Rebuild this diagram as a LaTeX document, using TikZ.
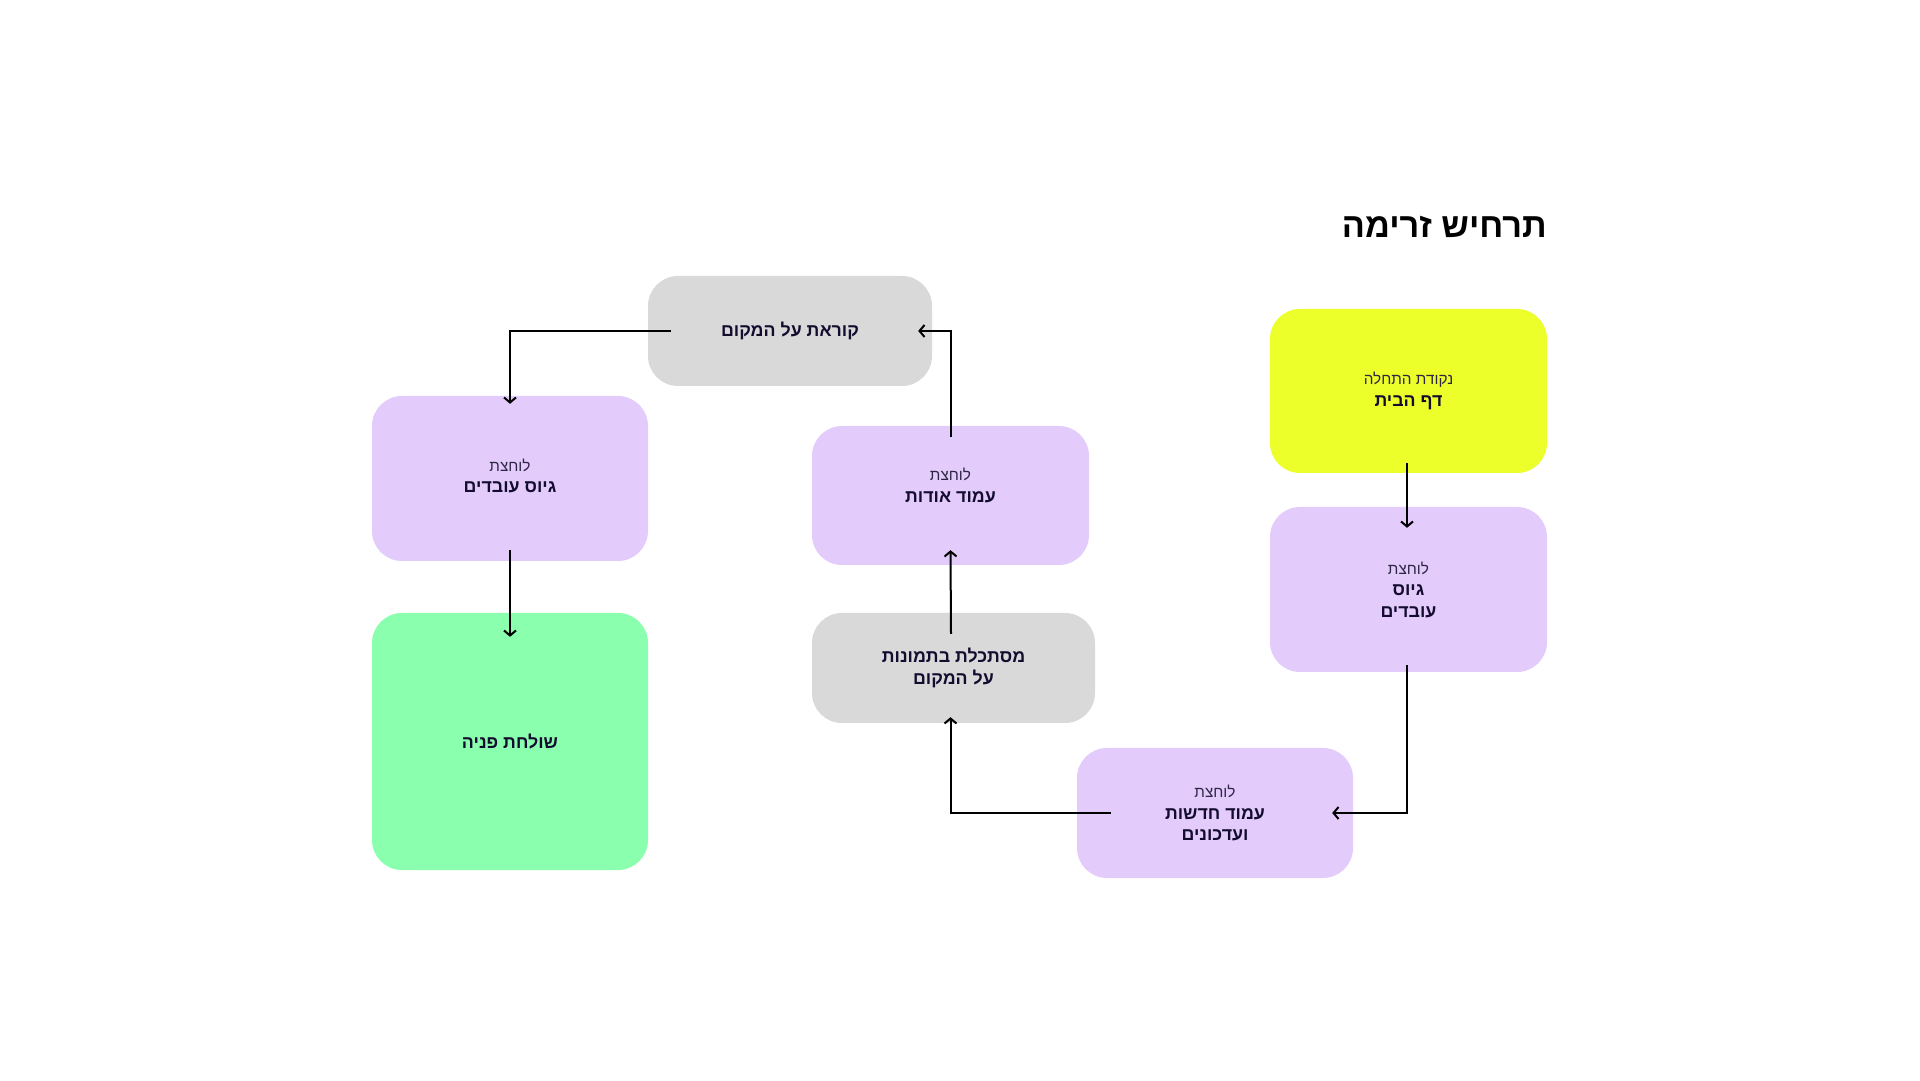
\documentclass[tikz,border=0pt]{standalone}
\usepackage{fontspec}
\usetikzlibrary{arrows.meta}
\TeXXeTstate=1
\newfontfamily\hebfont[Script=Hebrew]{Liberation Sans}
\definecolor{cyellow}{HTML}{EDFF2B}
\definecolor{cpurple}{HTML}{E3CCFC}
\definecolor{cgray}{HTML}{D9D9D9}
\definecolor{cgreen}{HTML}{8AFFAE}
\definecolor{txtdark}{HTML}{140C2E}
\definecolor{txtlight}{HTML}{2E2545}
\newcommand\hsmall[1]{{\fontsize{15.3}{21.5}\selectfont\color{txtlight}\beginR #1\endR}}
\newcommand\hbold[1]{{\fontsize{17.8}{21.5}\selectfont\bfseries\beginR #1\endR}}
\tikzset{
  box/.style={rounded corners=30pt, draw=none, align=center, text=txtdark,
    font=\hebfont\fontsize{17.8}{21.5}\selectfont, inner sep=0pt},
  boxtext/.style={align=center, text=txtdark, font=\hebfont\fontsize{17.8}{21.5}\selectfont, inner sep=0pt},
  arr/.style={line width=2pt, black, -{Straight Barb[length=5pt,width=12pt,line width=2pt]}}
}
\begin{document}
\begin{tikzpicture}[x=1pt,y=1pt]
\fill[white] (0,0) rectangle (1920,1080);
\useasboundingbox (0,0) rectangle (1920,1080);

\node[anchor=east, inner sep=0pt, font=\hebfont\fontsize{34.3}{40}\selectfont\bfseries, text=black] (title) at (1547,853) {\beginR תרחיש זרימה\endR};

\node[box, fill=cyellow, minimum width=277pt, minimum height=164pt] (yellow) at (1408.5,689) {\hsmall{נקודת התחלה}\\\hbold{דף הבית}};
\node[box, fill=cpurple, minimum width=277pt, minimum height=165pt] (rpurple) at (1408.5,490.5) {\hsmall{לוחצת}\\\hbold{גיוס}\\\hbold{עובדים}};
\node[box, fill=cpurple, minimum width=276pt, minimum height=130pt] (news) at (1215,267) {\hsmall{לוחצת}\\\hbold{עמוד חדשות}\\\hbold{ועדכונים}};
\node[box, fill=cgray, minimum width=283pt, minimum height=110pt] (pics) at (953.5,412) {\hbold{מסתכלת בתמונות}\\\hbold{על המקום}};
\node[box, fill=cpurple, minimum width=277pt, minimum height=139pt] (about) at (950.5,584.5) {};
\node[boxtext] (aboutT) at ([yshift=10pt]about.center) {\hsmall{לוחצת}\\\hbold{עמוד אודות}};
\node[box, fill=cgray, minimum width=284pt, minimum height=110pt] (reading) at (790,749) {\hbold{קוראת על המקום}};
\node[box, fill=cpurple, minimum width=276pt, minimum height=165pt] (lpurple) at (510,601.5) {};
\node[boxtext] (lpurpleT) at ([yshift=2.5pt]lpurple.center) {\hsmall{לוחצת}\\\hbold{גיוס עובדים}};
\node[box, fill=cgreen, minimum width=276pt, minimum height=257pt] (green) at (510,338.5) {\hbold{שולחת פניה}};

\draw[arr] ([xshift=-1.5pt,yshift=10pt]yellow.south) -- ([xshift=-1.5pt,yshift=-21pt]rpurple.north);
\draw[arr] ([xshift=-1.5pt,yshift=7pt]rpurple.south) |- ([xshift=-21pt]news.east);
\draw[arr] ([xshift=34pt]news.west) -| ([xshift=-3pt,yshift=6pt]pics.south);
\draw[arr] ([xshift=-2.5pt,yshift=-21pt]pics.north) -- ([yshift=15pt]about.south);
\draw[arr] ([yshift=-11pt]about.north) |- ([xshift=-14pt]reading.east);
\draw[arr] ([xshift=23pt]reading.west) -| ([yshift=-8pt]lpurple.north);
\draw[arr] ([yshift=11pt]lpurple.south) -- ([yshift=-24pt]green.north);
\end{tikzpicture}
\end{document}
